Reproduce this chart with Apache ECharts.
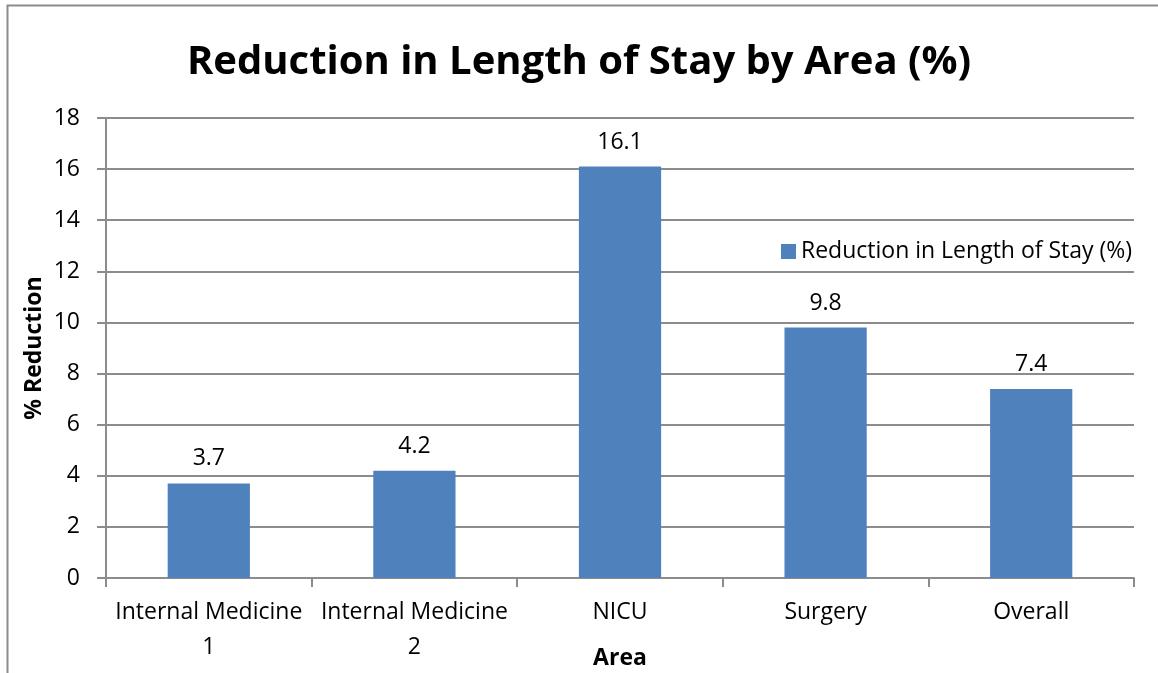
<!DOCTYPE html>
<html>
<head>
<meta charset="utf-8">
<style>
  html, body { margin: 0; padding: 0; background: #fff; overflow: hidden; }
  #chart { width: 1158px; height: 673px; }
</style>
<script src="https://cdn.jsdelivr.net/npm/echarts@6/dist/echarts.min.js"></script>
</head>
<body>
<div id="chart"></div>
<script>
// Length-of-stay reduction per hospital area
const categories = ['Internal Medicine\n1', 'Internal Medicine\n2', 'NICU', 'Surgery', 'Overall'];
const reductionValues = [3.7, 4.2, 16.1, 9.8, 7.4];
const seriesName = 'Reduction in Length of Stay (%)';

const FONT = '"Open Sans", Lato, sans-serif';
const chart = echarts.init(document.getElementById('chart'), null, { renderer: 'canvas' });

chart.setOption({
  animation: false,
  backgroundColor: '#ffffff',
  textStyle: { fontFamily: FONT },
  graphic: [{
    type: 'rect',
    silent: true,
    shape: { x: 7.5, y: 5.5, width: 1200, height: 700 },
    style: { fill: 'none', stroke: '#8c8c8c', lineWidth: 2 }
  }],
  title: {
    text: 'Reduction in Length of Stay by Area (%)',
    left: 'center',
    top: 38,
    textStyle: { fontFamily: FONT, fontSize: 40, fontWeight: 'bold', color: '#000' }
  },
  legend: {
    data: [seriesName],
    left: 776,
    top: 235,
    itemWidth: 15,
    itemHeight: 15,
    itemGap: 8,
    icon: 'rect',
    textStyle: { fontFamily: FONT, fontSize: 23, color: '#000' }
  },
  grid: { left: 106, width: 1028, top: 118, height: 460, outerBoundsMode: 'none', containLabel: false },
  xAxis: {
    type: 'category',
    data: categories,
    name: 'Area',
    nameLocation: 'middle',
    nameGap: 80,
    nameMoveOverlap: false,
    nameTextStyle: { fontFamily: FONT, fontSize: 23, fontWeight: 'bold', color: '#000', verticalAlign: 'middle' },
    axisLine: { lineStyle: { color: '#8c8c8c', width: 2 } },
    axisTick: { show: true, length: 9, alignWithLabel: false, lineStyle: { color: '#8c8c8c', width: 2 } },
    axisLabel: { fontFamily: FONT, fontSize: 23, color: '#000', margin: 17, lineHeight: 35, interval: 0 },
    splitLine: { show: false }
  },
  yAxis: {
    type: 'value',
    min: 0,
    max: 18,
    interval: 2,
    name: '% Reduction',
    nameLocation: 'middle',
    nameGap: 72,
    nameRotate: 90,
    nameMoveOverlap: false,
    nameTextStyle: { fontFamily: FONT, fontSize: 23, fontWeight: 'bold', color: '#000', verticalAlign: 'middle' },
    axisLine: { show: true, lineStyle: { color: '#8c8c8c', width: 2 } },
    axisTick: { show: true, length: 9, lineStyle: { color: '#8c8c8c', width: 2 } },
    axisLabel: { fontFamily: FONT, fontSize: 23, color: '#000', margin: 26 },
    splitLine: { show: true, lineStyle: { color: '#8c8c8c', width: 2 } }
  },
  series: [{
    name: seriesName,
    type: 'bar',
    data: reductionValues,
    barWidth: '40%',
    itemStyle: { color: '#4f81bd' },
    label: {
      show: true,
      position: 'top',
      distance: 13,
      fontFamily: FONT,
      fontSize: 23,
      color: '#000'
    }
  }]
});
</script>
</body>
</html>
